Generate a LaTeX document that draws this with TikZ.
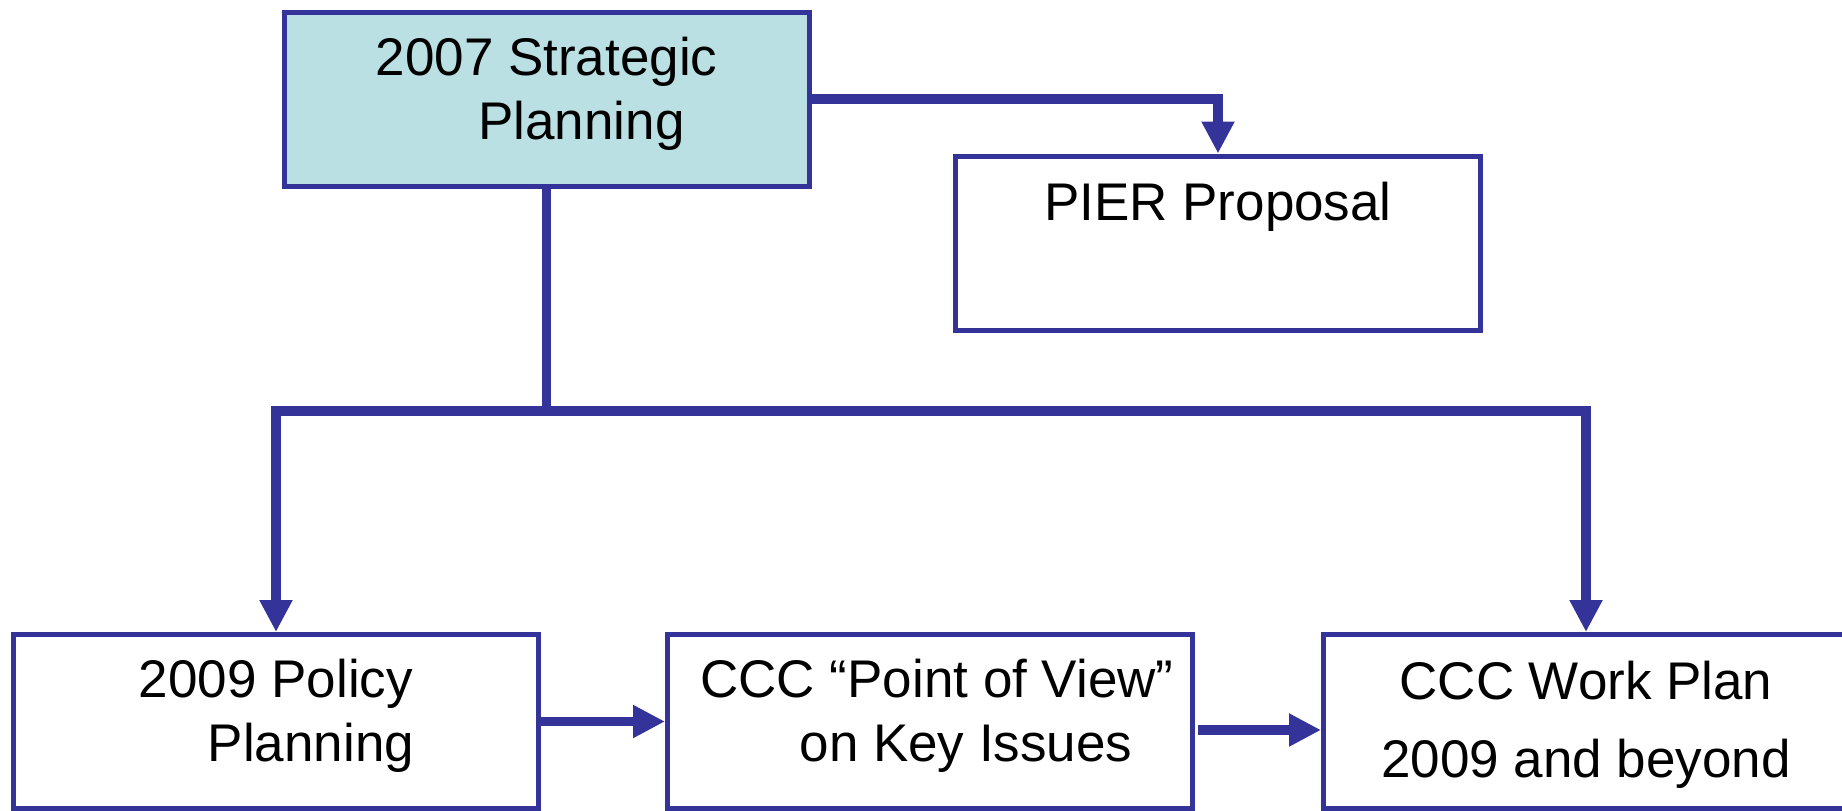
\documentclass[tikz,border=0pt]{standalone}
\usepackage{fontspec}
\setmainfont{Liberation Sans}
\usetikzlibrary{arrows.meta}

\definecolor{linkblue}{RGB}{51,51,153}
\definecolor{planfill}{RGB}{187,224,227}

\tikzset{
  planbox/.style={draw=linkblue, line width=2.5pt, minimum width=262.5pt,
    minimum height=87pt, inner sep=0pt, align=center,
    text height=52pt, text depth=12pt,
    font=\fontsize{26.5pt}{32pt}\selectfont},
  link/.style={draw=linkblue, line width=4.75pt,
    -{Triangle[length=16pt,width=15.5pt]}}
}

\begin{document}
\begin{tikzpicture}[x=0.5pt,y=-0.5pt]

\path[use as bounding box, fill=white] (0,0) rectangle (1842,810);

%% boxes
\node[planbox, fill=planfill] (top) at (546.5,99) {2007 Strategic\\\hspace*{35pt}Planning};
\node[planbox, text height=20pt, text depth=43pt] (pier) at (1218,243) {PIER Proposal};
\node[planbox] (pol1) at (276,721.5) {2009 Policy\\\hspace*{35pt}Planning};
\node[planbox] (pol2) at (930,721.5) {\hspace*{7pt}CCC “Point of View”\\\hspace*{36pt}on Key Issues};
\node[planbox, font=\fontsize{26.5pt}{39pt}\selectfont, text height=60pt, text depth=4.5pt] (pol3) at (1586,721.5) {CCC Work Plan\\2009 and beyond};

%% connectors
\coordinate (split) at (546.5,411);

\draw[link] (top.east) -| (pier.north);
\draw[link,-] (top.south) -- (split);
\draw[link] (split) -| (pol1.north);
\draw[link] (split) -| (pol3.north);
\draw[link] (pol1) -- (pol2);
\draw[link] ([xshift=1.5pt,yshift=-4.25pt]pol2.east) -- ([yshift=-4.25pt]pol3.west);

\end{tikzpicture}
\end{document}
